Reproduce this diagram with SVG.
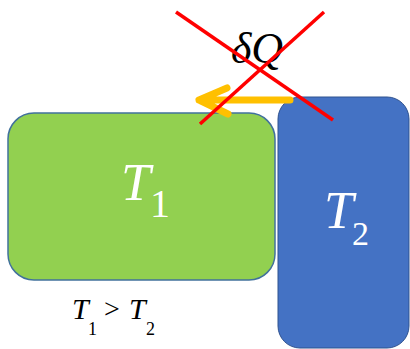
<svg xmlns="http://www.w3.org/2000/svg" width="410" height="349" viewBox="0 0 410 349">
<style>
text{font-family:'Times New Roman','Liberation Serif',Tinos,'DejaVu Serif',serif;}
.i{font-style:italic;}
.w{fill:#ffffff;}
.k{fill:#000000;}
.arrow{stroke:#FFC000;stroke-width:7;fill:none;stroke-linecap:round;stroke-linejoin:round;}
.cross{stroke:#FF0000;stroke-width:3.5;stroke-linecap:butt;}
</style>
<g id="T1-node">
<rect x="8" y="113" width="267" height="167" rx="26" fill="#92D050" stroke="#41719C" stroke-width="1.5"/>
<text class="w" y="200"><tspan class="i" x="121" font-size="53">T</tspan><tspan x="150" y="217" font-size="40">1</tspan></text>
</g>
<g id="T2-node">
<rect x="278" y="97" width="131" height="251" rx="22" fill="#4472C4" stroke="#2F528F" stroke-width="1"/>
<text class="w" y="228"><tspan class="i" x="324" font-size="53">T</tspan><tspan x="352" y="245" font-size="34">2</tspan></text>
</g>
<g id="connectors">
<path class="arrow" d="M290 100 L199 100 M227 88 L199 100 L228 114"/>
</g>
<g id="heat-label">
<text class="i k" x="257" y="63" font-size="44" text-anchor="middle">δQ</text>
<line class="cross" x1="176" y1="12" x2="333" y2="120"/>
<line class="cross" x1="324" y1="12" x2="200" y2="124"/>
</g>
<g id="condition">
<text class="k" y="319"><tspan class="i" x="72" font-size="30">T</tspan><tspan x="88" y="335" font-size="18">1</tspan><tspan x="104" y="318" font-size="28">&gt;</tspan><tspan class="i" x="129" y="319" font-size="30">T</tspan><tspan x="146" y="335" font-size="18">2</tspan></text>
</g>
</svg>
